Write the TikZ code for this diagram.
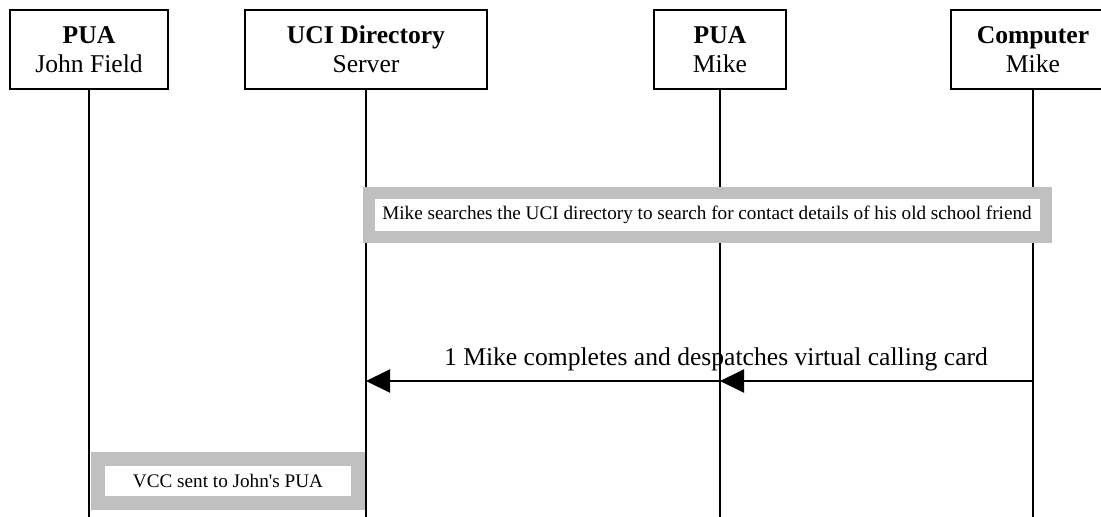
\documentclass[tikz,border=0pt]{standalone}
\usepackage{fontspec}
\setmainfont{Liberation Serif}
\usetikzlibrary{arrows.meta}
\definecolor{boxgray}{HTML}{C0C0C0}
\tikzset{
  head/.style={draw=black, line width=1.5pt, fill=white, align=center, minimum height=79pt,
    inner sep=0pt, font=\fontsize{25.6}{29}\selectfont},
  life/.style={black, line width=1.6pt},
  note/.style={draw=boxgray, fill=white, inner sep=0pt},
  msg/.style={black, line width=2pt, -{Triangle[length=24pt,width=23pt]}}
}

\begin{document}
\begin{tikzpicture}[x=1pt,y=-1pt]
  \useasboundingbox (0,0) rectangle (1101,517);
  \clip (0,0) rectangle (1101,517);
  % heads
  \node[head, minimum width=158pt] (john)   at (89,49.5)   {\textbf{PUA}\\John Field};
  \node[head, minimum width=242pt] (server) at (366,49.5)  {\textbf{UCI Directory}\\Server};
  \node[head, minimum width=132pt] (mike)   at (720,49.5)  {\textbf{PUA}\\Mike};
  \node[head, minimum width=164pt] (comp)   at (1033,49.5) {\textbf{Computer}\\Mike};
  % lifelines
  \foreach \p in {john,server,mike,comp}
    \draw[life] (\p.south) -- (\p |- 0,517);
  % search note
  \node[note, line width=12pt, minimum width=677pt, minimum height=44pt] (search) at (707,215)
    {\fontsize{19.2}{21}\selectfont Mike searches the UCI directory to search for contact details of his old school friend};
  % message 1
  \coordinate (c1) at (comp |- 0,381);
  \coordinate (m1) at (mike |- 0,381);
  \coordinate (s1) at (server |- 0,381);
  \draw[msg] (c1) -- (m1);
  \draw[msg] (m1) -- (s1);
  \node[font=\fontsize{25.6}{28}\selectfont, anchor=base] (card) at (716,365)
    {1 Mike completes and despatches virtual calling card};
  % vcc note
  \node[note, line width=14pt, minimum width=260pt, minimum height=44pt] (vcc) at (228,481)
    {\fontsize{19.2}{21}\selectfont VCC sent to John\textquotesingle s PUA};
\end{tikzpicture}
\end{document}
